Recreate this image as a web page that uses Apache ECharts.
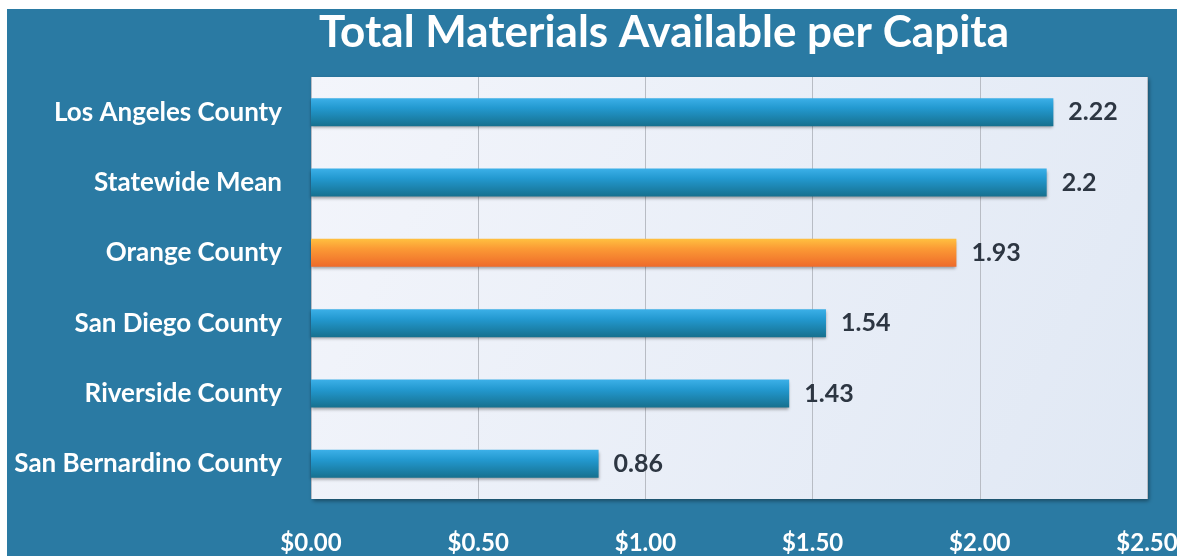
<!DOCTYPE html>
<html>
<head>
<meta charset="utf-8">
<script src="https://cdn.jsdelivr.net/npm/echarts@6/dist/echarts.min.js"></script>
<style>
html,body{margin:0;padding:0;background:#ffffff;}
#c{width:1183px;height:560px;}
</style>
</head>
<body>
<div id="c"></div>
<script>
const title = 'Total Materials Available per Capita';
const categories = ['Los Angeles County','Statewide Mean','Orange County','San Diego County','Riverside County','San Bernardino County'];
const values = [2.22, 2.2, 1.93, 1.54, 1.43, 0.86];
const highlight = 'Orange County';
const xTicks = [0, 0.5, 1.0, 1.5, 2.0, 2.5];

const chart = echarts.init(document.getElementById('c'));
const blueGrad = new echarts.graphic.LinearGradient(0,0,0,1,[
  {offset:0,color:'#3cb0e8'},{offset:0.35,color:'#2399d0'},{offset:1,color:'#16708e'}]);
const orangeGrad = new echarts.graphic.LinearGradient(0,0,0,1,[
  {offset:0,color:'#ffc040'},{offset:0.35,color:'#fb9a35'},{offset:1,color:'#ee6a2a'}]);

chart.setOption({
  backgroundColor:'#ffffff',
  animation:false,
  graphic:[{type:'rect',left:7,top:9,shape:{width:1170,height:547},style:{fill:'#2a7aa3'},z:-10}],
  title:{text:title,left:659,top:6,textAlign:'center',
    textStyle:{color:'#ffffff',fontFamily:'Lato',fontWeight:'bold',fontSize:44}},
  grid:{left:311,right:36,top:77,bottom:61,show:true,borderWidth:0,
    backgroundColor:new echarts.graphic.LinearGradient(0,0,1,1,[
      {offset:0,color:'#f3f5fb'},{offset:1,color:'#e0e8f4'}]),
    shadowColor:'rgba(0,0,0,0.4)',shadowBlur:4,shadowOffsetX:2,shadowOffsetY:2},
  xAxis:{type:'value',min:0,max:2.5,interval:0.5,
    axisLine:{show:false},axisTick:{show:false},
    splitLine:{show:true,lineStyle:{color:'#b8bcc4',width:1}},
    axisLabel:{margin:32,color:'#ffffff',fontFamily:'Lato',fontWeight:'bold',fontSize:24,
      formatter:v=>'$'+v.toFixed(2)}},
  yAxis:{type:'category',data:categories,inverse:true,
    axisLine:{show:false},axisTick:{show:false},
    axisLabel:{margin:29,color:'#ffffff',fontFamily:'Lato',fontWeight:'bold',fontSize:26}},
  series:[{type:'bar',barWidth:28,
    data:values.map((v,i)=>({value:v,itemStyle:{color:categories[i]===highlight?orangeGrad:blueGrad}})),
    itemStyle:{shadowColor:'rgba(0,0,0,0.35)',shadowBlur:3,shadowOffsetY:2},
    label:{show:true,position:'right',distance:15,color:'#2d3642',fontFamily:'Lato',fontWeight:'bold',fontSize:25,
      formatter:p=>String(p.value)}}]
});
</script>
</body>
</html>
